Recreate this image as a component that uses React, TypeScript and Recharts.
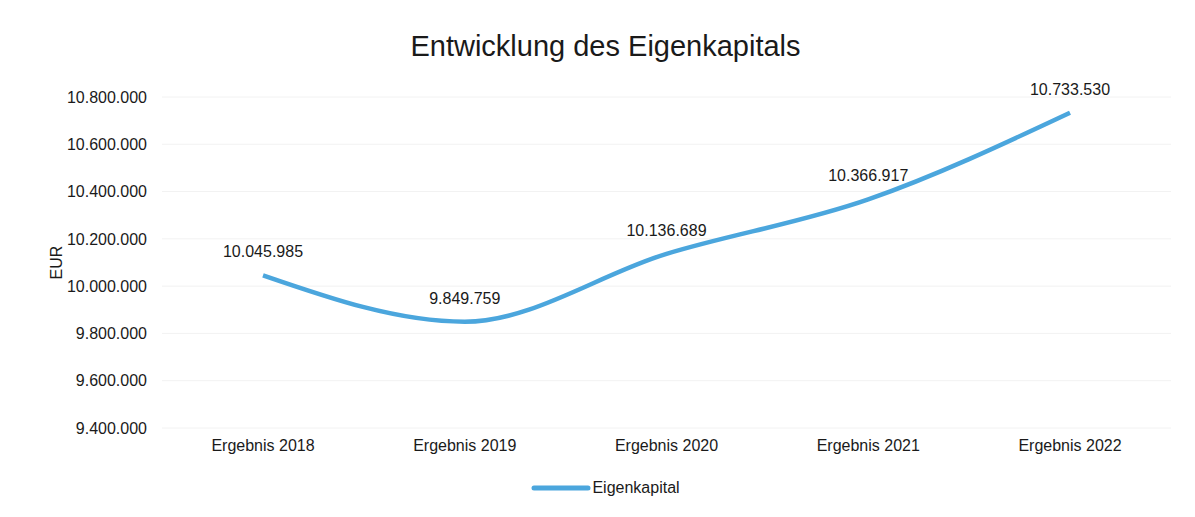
import { CartesianGrid, LabelList, Legend, Line, LineChart, XAxis, YAxis } from "recharts";

const categories = ["Ergebnis 2018", "Ergebnis 2019", "Ergebnis 2020", "Ergebnis 2021", "Ergebnis 2022"];
const eigenkapital = [10045985, 9849759, 10136689, 10366917, 10733530];
const yTicks = [9400000, 9600000, 9800000, 10000000, 10200000, 10400000, 10600000, 10800000];

const data = categories.map((name, i) => ({ name, eigenkapital: eigenkapital[i] }));

const LINE_COLOR = "#4ba6dd";
const FONT = "'Liberation Sans', Arial, sans-serif";

// German thousands separator
const fmt = (v: number) => String(Math.round(v)).replace(/\B(?=(\d{3})+(?!\d))/g, ".");

function LegendContent() {
  return (
    <div style={{ display: "flex", justifyContent: "center", alignItems: "center", fontFamily: FONT, fontSize: 16, color: "#1a1a1a" }}>
      <svg width={60} height={10} style={{ marginRight: 1 }}>
        <line x1={3} y1={5} x2={57} y2={5} stroke={LINE_COLOR} strokeWidth={5} strokeLinecap="round" />
      </svg>
      <span>Eigenkapital</span>
    </div>
  );
}

export default function App() {
  return (
    <div style={{ position: "absolute", left: 0, top: 0, width: 1195, height: 517, background: "#fff" }}>
      <div
        style={{
          position: "absolute",
          top: 30,
          left: 8,
          width: 1195,
          textAlign: "center",
          fontFamily: FONT,
          fontSize: 29,
          color: "#1a1a1a",
          zIndex: 1,
        }}
      >
        Entwicklung des Eigenkapitals
      </div>
      <LineChart width={1195} height={517} data={data} margin={{ top: 97, right: 24, left: 40, bottom: 21 }}>
        <CartesianGrid stroke="#f2f2f2" vertical={false} />
        <XAxis
          dataKey="name"
          axisLine={false}
          tickLine={false}
          tickMargin={6}
          height={50}
          padding={{ left: 101, right: 101 }}
          tick={{ fontSize: 16, fill: "#1a1a1a", fontFamily: FONT }}
        />
        <YAxis
          domain={[9400000, 10800000]}
          ticks={yTicks}
          tickFormatter={fmt}
          axisLine={false}
          tickLine={false}
          tickMargin={9}
          width={122}
          tick={{ fontSize: 16, fill: "#1a1a1a", fontFamily: FONT }}
          label={{
            value: "EUR",
            angle: -90,
            position: "insideLeft",
            offset: 16,
            style: { fontSize: 16, fill: "#1a1a1a", fontFamily: FONT, textAnchor: "middle" },
          }}
        />
        <Legend verticalAlign="bottom" content={<LegendContent />} wrapperStyle={{ bottom: 20 }} />
        <Line
          type="monotone"
          dataKey="eigenkapital"
          name="Eigenkapital"
          stroke={LINE_COLOR}
          strokeWidth={4.5}
          dot={false}
          isAnimationActive={false}
        >
          <LabelList
            dataKey="eigenkapital"
            position="top"
            offset={18}
            formatter={(v: any) => fmt(Number(v))}
            style={{ fontSize: 16, fill: "#1a1a1a", fontFamily: FONT }}
          />
        </Line>
      </LineChart>
    </div>
  );
}
